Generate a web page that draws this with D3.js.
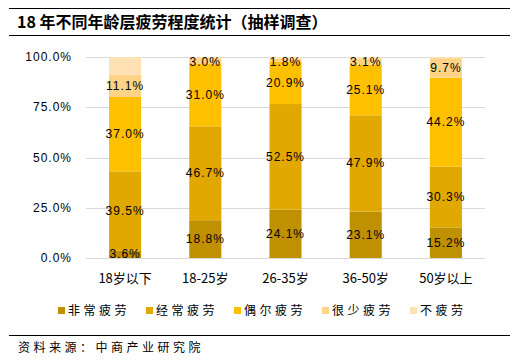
<!DOCTYPE html>
<html>
<head>
<meta charset="utf-8">
<script src="https://cdn.jsdelivr.net/npm/d3@7"></script>
<style>
  body { margin: 0; background: #fff; }
  svg { display: block; }
  .num { font-family: "Liberation Sans", Arial, sans-serif; font-size: 12px; letter-spacing: 1px; }
  .cjk { font-family: "Noto Sans CJK SC", sans-serif; }
</style>
</head>
<body>
<div id="chart"></div>
<script>
  // data (percent)
  var categories = ["18岁以下", "18-25岁", "26-35岁", "36-50岁", "50岁以上"];
  var seriesNames = ["非常疲劳", "经常疲劳", "偶尔疲劳", "很少疲劳", "不疲劳"];
  var veryTired = [3.6, 18.8, 24.1, 23.1, 15.2];
  var oftenTired = [39.5, 46.7, 52.5, 47.9, 30.3];
  var sometimesTired = [37.0, 31.0, 20.9, 25.1, 44.2];
  var rarelyTired = [11.1, 3.0, 1.8, 3.1, 9.7];
  var notTired = [8.8, 0.5, 0.7, 0.8, 0.6];
  var yTicks = [0, 25, 50, 75, 100];

  var seriesValues = [veryTired, oftenTired, sometimesTired, rarelyTired, notTired];
  var colors = ["#BF9000", "#E0A800", "#FFC000", "#FFD385", "#FFE1B4"];
  var showLabel = [true, true, true, true, false];

  var width = 516, height = 362;
  var svg = d3.select("#chart").append("svg")
      .attr("width", width).attr("height", height);

  // frame lines + title
  svg.append("line").attr("x1", 9).attr("x2", 510).attr("y1", 8.5).attr("y2", 8.5)
     .attr("stroke", "#000").attr("stroke-width", 1);
  svg.append("line").attr("x1", 9).attr("x2", 510).attr("y1", 35.5).attr("y2", 35.5)
     .attr("stroke", "#000").attr("stroke-width", 1);
  svg.append("text").attr("class", "cjk")
     .attr("x", 17).attr("y", 28)
     .attr("font-size", "16px").attr("font-weight", "bold")
     .text("18 年不同年龄层疲劳程度统计（抽样调查）");

  var x = d3.scaleBand().domain(categories).range([85, 486]).paddingInner(0.6).paddingOuter(0.3);
  var y = d3.scaleLinear().domain([0, 100]).range([258, 57]);

  // gridlines
  svg.append("g").selectAll("line").data(yTicks).join("line")
     .attr("x1", 86).attr("x2", 485)
     .attr("y1", function(d) { return Math.round(y(d)) + 0.5; })
     .attr("y2", function(d) { return Math.round(y(d)) + 0.5; })
     .attr("stroke", "#D9D9D9");

  // y axis labels
  svg.append("g").selectAll("text").data(yTicks).join("text")
     .attr("class", "num")
     .attr("x", 72).attr("y", function(d) { return y(d) + 4; })
     .attr("text-anchor", "end").attr("fill", "#000")
     .text(function(d) { return d.toFixed(1) + "%"; });

  // stack
  var rows = categories.map(function(c, i) {
    var r = { cat: c };
    seriesNames.forEach(function(s, j) { r[s] = seriesValues[j][i]; });
    return r;
  });
  var stacked = d3.stack().keys(seriesNames)(rows);

  var layers = svg.append("g").selectAll("g").data(stacked).join("g")
     .attr("fill", function(d, i) { return colors[i]; });
  layers.selectAll("rect").data(function(d) { return d; }).join("rect")
     .attr("x", function(d) { return x(d.data.cat); })
     .attr("width", x.bandwidth())
     .attr("y", function(d) { return y(Math.min(d[1], 100)); })
     .attr("height", function(d) { return y(d[0]) - y(Math.min(d[1], 100)); });

  // data labels
  stacked.forEach(function(layer, i) {
    if (!showLabel[i]) return;
    svg.append("g").selectAll("text").data(layer).join("text")
       .attr("class", "num")
       .attr("x", function(d) { return x(d.data.cat) + x.bandwidth() / 2; })
       .attr("y", function(d) {
         var mid = y((d[0] + Math.min(d[1], 100)) / 2) + 4;
         return Math.min(Math.max(mid, 66), 261);
       })
       .attr("text-anchor", "middle").attr("fill", "#000")
       .text(function(d) { return (d[1] - d[0]).toFixed(1) + "%"; });
  });

  // x labels
  svg.append("g").selectAll("text").data(categories).join("text")
     .attr("class", "cjk")
     .attr("x", function(d) { return x(d) + x.bandwidth() / 2; })
     .attr("y", 283).attr("text-anchor", "middle")
     .attr("font-size", "13px")
     .text(function(d) { return d; });

  // legend
  var legendX = [58, 146, 234, 322, 410];
  var leg = svg.append("g").selectAll("g").data(seriesNames).join("g")
     .attr("transform", function(d, i) { return "translate(" + legendX[i] + ",0)"; });
  leg.append("rect").attr("x", 0).attr("y", 307).attr("width", 7).attr("height", 7)
     .attr("fill", function(d, i) { return colors[i]; });
  leg.append("text").attr("class", "cjk")
     .attr("x", 10).attr("y", 315).attr("font-size", "12px")
     .attr("letter-spacing", "3.5px")
     .text(function(d) { return d; });

  // source
  svg.append("line").attr("x1", 9).attr("x2", 510).attr("y1", 335.5).attr("y2", 335.5)
     .attr("stroke", "#000").attr("stroke-width", 1);
  svg.append("text").attr("class", "cjk")
     .attr("x", 18).attr("y", 352).attr("font-size", "12px")
     .attr("letter-spacing", "3.5px")
     .text("资料来源：中商产业研究院");
</script>
</body>
</html>
